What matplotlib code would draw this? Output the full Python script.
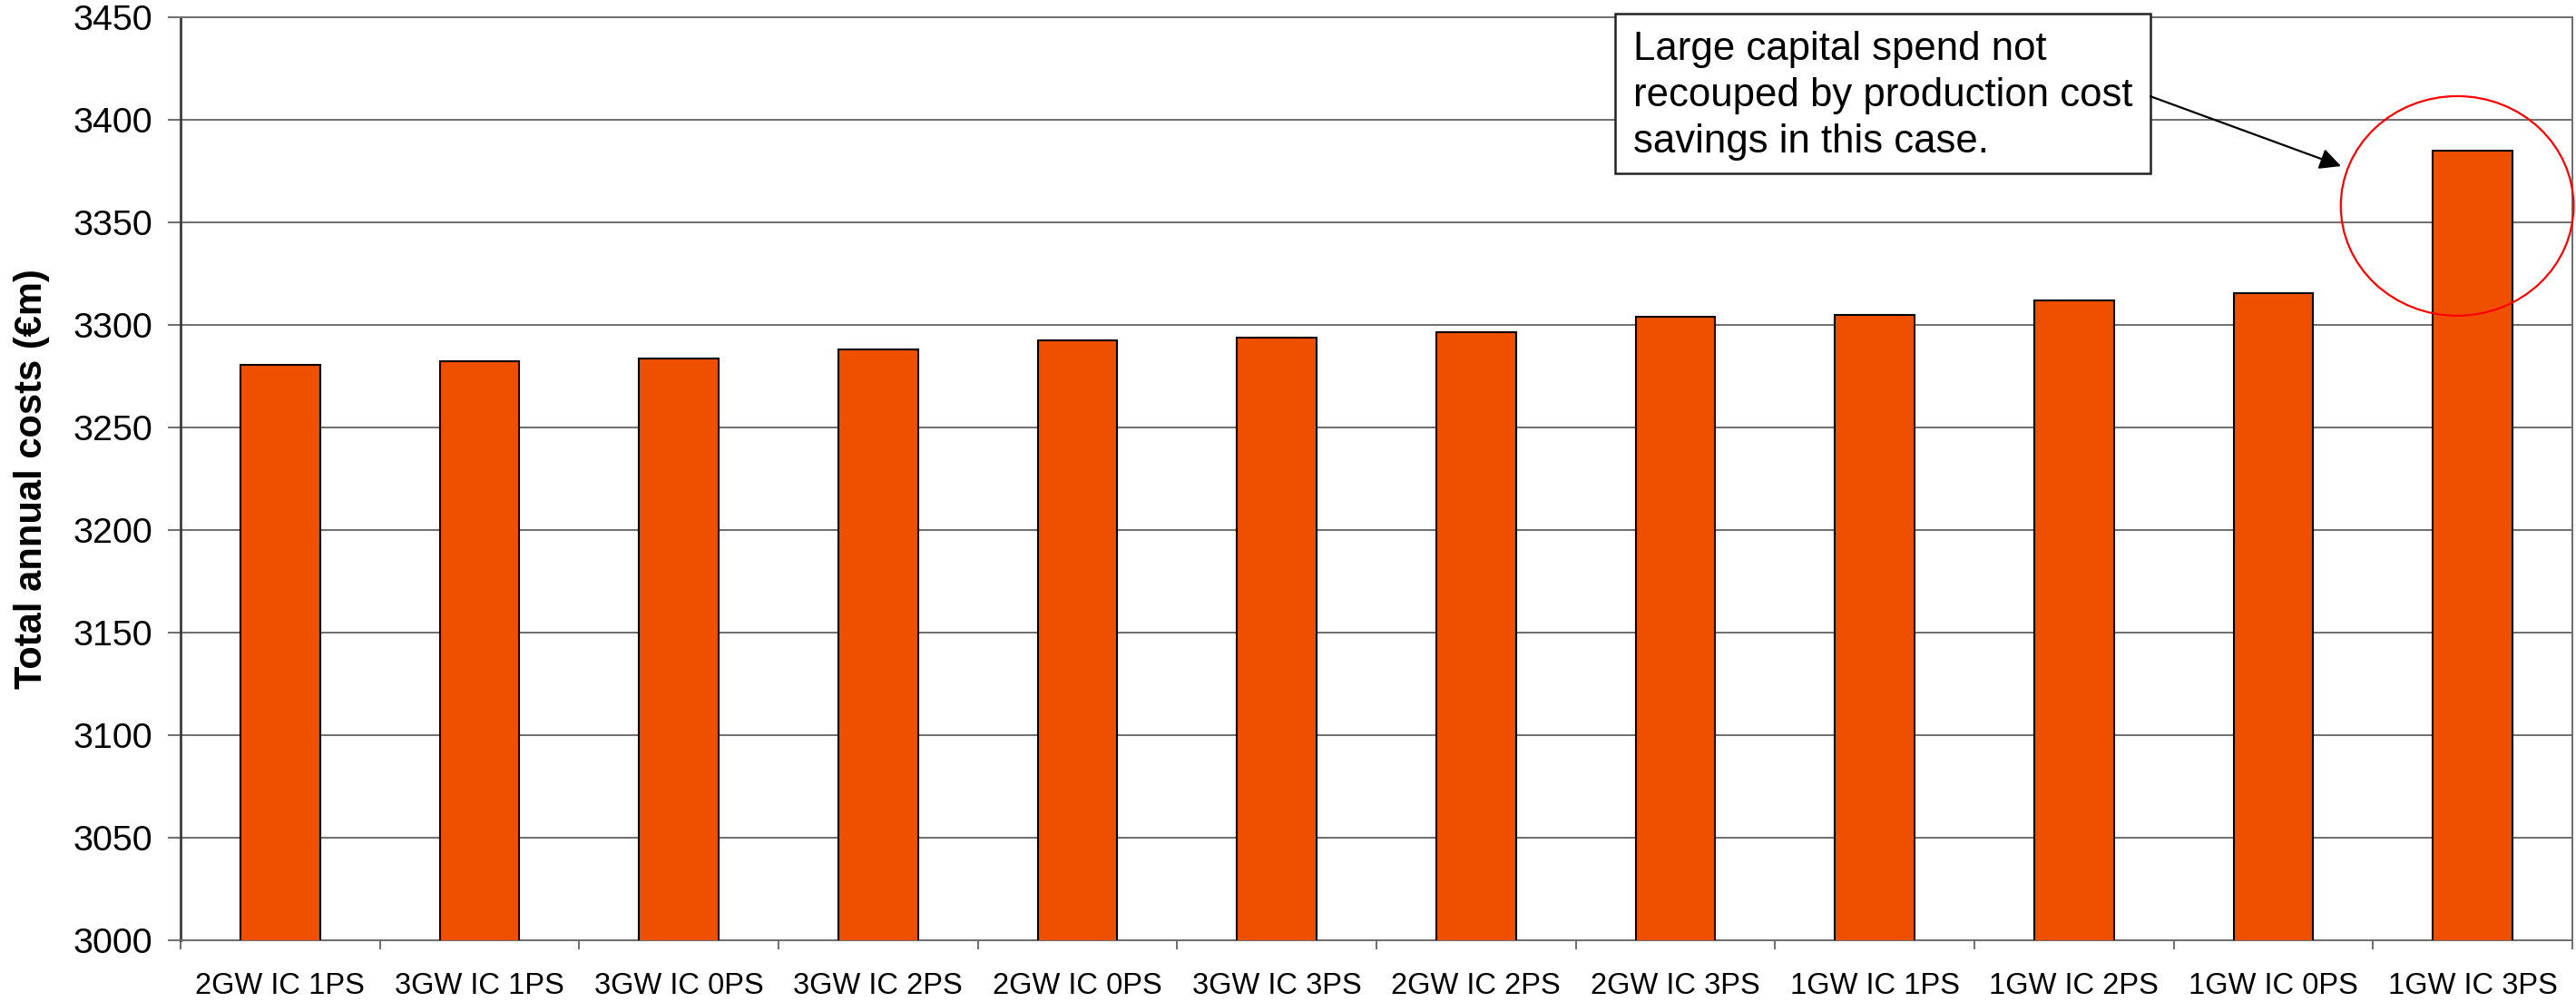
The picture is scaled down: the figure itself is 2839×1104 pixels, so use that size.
import numpy as np
import matplotlib.pyplot as plt
from matplotlib.patches import Ellipse, Rectangle

# Scenario labels and total annual costs (EUR m)
scenarios = ["2GW IC 1PS", "3GW IC 1PS", "3GW IC 0PS", "3GW IC 2PS",
             "2GW IC 0PS", "3GW IC 3PS", "2GW IC 2PS", "2GW IC 3PS",
             "1GW IC 1PS", "1GW IC 2PS", "1GW IC 0PS", "1GW IC 3PS"]
total_costs = [3280.6, 3282.2, 3283.7, 3288.0, 3292.4, 3293.8,
               3296.5, 3304.0, 3304.9, 3311.7, 3315.2, 3384.8]

y_ticks = list(range(3000, 3451, 50))
note_text = "Large capital spend not\nrecouped by production cost\nsavings in this case."

plt.rcParams['font.family'] = ['Liberation Sans', 'DejaVu Sans']

bar_color = '#EE5000'
grid_color = '#6e6e6e'

fig = plt.figure(figsize=(28.39, 11.04), dpi=100)
ax = fig.add_axes([0.0701, 0.0616, 0.9285, 0.9215])

x = np.arange(len(scenarios))
ax.bar(x, total_costs, width=0.40, color=bar_color, edgecolor='black',
       linewidth=1.5, zorder=3)

ax.set_xlim(-0.5, len(scenarios) - 0.5)
ax.set_ylim(3000, 3450)
ax.set_yticks(y_ticks)
ax.yaxis.grid(True, color=grid_color, linewidth=1.4, zorder=0)
ax.set_axisbelow(True)

# category labels centred, ticks between the categories
ax.set_xticks(x)
ax.set_xticklabels(scenarios, fontsize=23.5)
ax.set_xticks(np.arange(len(scenarios) + 1) - 0.5, minor=True)
ax.tick_params(axis='x', which='major', length=0, pad=25)
ax.tick_params(axis='x', which='minor', length=7.2, width=1.4, color=grid_color)
ax.tick_params(axis='y', length=10, width=1.4, color=grid_color,
               labelsize=28.4, pad=12)

for side in ['left', 'bottom', 'right', 'top']:
    ax.spines[side].set_color(grid_color)
    ax.spines[side].set_linewidth(1.4)
ax.spines['left'].set_color('#3c3c3c')
ax.spines['left'].set_linewidth(2)

ax.set_ylabel("Total annual costs (€m)", fontsize=30, fontweight='bold')
ax.yaxis.set_label_coords(-0.0546, 0.5)

# callout box with arrow to the 1GW IC 3PS bar
box = Rectangle((6.695, 3373.9), 9.383 - 6.695, 3451.6 - 3373.9,
                facecolor='white', edgecolor='#222222', linewidth=1.8,
                zorder=5, clip_on=False)
ax.add_patch(box)
ax.text(6.79, 3443.0, note_text, fontsize=31.5, va='top', ha='left',
        linespacing=1.31, zorder=6, clip_on=False)
ax.annotate("", xy=(10.339, 3377.3), xytext=(9.383, 3411.3),
            arrowprops=dict(arrowstyle='-|>', color='black', lw=1.6,
                            mutation_scale=35, shrinkA=0, shrinkB=0),
            zorder=6)

ring = Ellipse((10.922, 3357.9), 1.168, 107, facecolor='none',
               edgecolor='#ff0000', linewidth=1.6, zorder=6, clip_on=False)
ax.add_patch(ring)

fig.savefig("out.png", dpi=100)
